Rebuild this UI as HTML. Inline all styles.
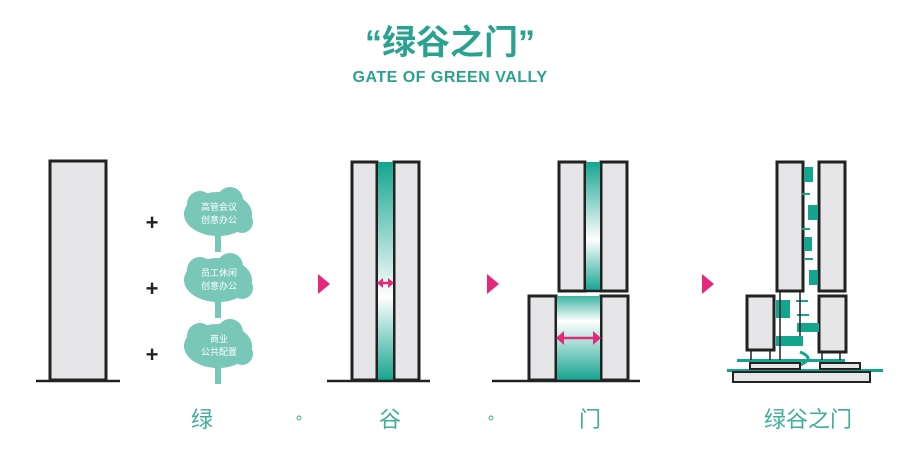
<!DOCTYPE html>
<html><head><meta charset="utf-8"><style>
html,body{margin:0;padding:0;background:#fff;}
svg{display:block}
text{font-family:"Liberation Sans","Noto Sans CJK SC",sans-serif;}
</style></head><body>
<svg width="900" height="452" viewBox="0 0 900 452" xmlns="http://www.w3.org/2000/svg">
<defs>
<linearGradient id="gv" x1="0" y1="0" x2="0" y2="1">
<stop offset="0" stop-color="#15a58f"/><stop offset="0.62" stop-color="#ffffff"/><stop offset="1" stop-color="#15a58f"/>
</linearGradient>
<linearGradient id="gv3" x1="0" y1="0" x2="0" y2="1">
<stop offset="0" stop-color="#15a58f"/><stop offset="0.6" stop-color="#ffffff"/><stop offset="1" stop-color="#15a58f"/>
</linearGradient>
<linearGradient id="gv2" x1="0" y1="0" x2="0" y2="1">
<stop offset="0" stop-color="#3fb5a2"/><stop offset="0.3" stop-color="#ffffff"/><stop offset="1" stop-color="#15a58f"/>
</linearGradient>
</defs>
<text x="450" y="54" font-size="34" fill="#2aa28f" text-anchor="middle" font-weight="bold">“绿谷之门”</text>
<text x="450" y="82" font-size="16" fill="#2aa28f" text-anchor="middle" font-weight="bold" letter-spacing="0.5">GATE OF GREEN VALLY</text>

<g stroke="#222" stroke-width="3" fill="#e6e6e8">
<rect x="50" y="161" width="56" height="219"/>
<rect x="352" y="162" width="25" height="218"/>
<rect x="394" y="162" width="25" height="218"/>
<rect x="559" y="162" width="26" height="129"/>
<rect x="601" y="162" width="26" height="129"/>
<rect x="529" y="296" width="27" height="84"/>
<rect x="601" y="296" width="27" height="84"/>
<rect x="777" y="162" width="26" height="129"/>
<rect x="819" y="162" width="26" height="129"/>
<rect x="747" y="296" width="27" height="54"/>
<rect x="819" y="296" width="27" height="56"/>
</g>
<rect x="378" y="162" width="15" height="218" fill="url(#gv)"/>
<rect x="586" y="162" width="14" height="129" fill="url(#gv3)"/>
<rect x="557" y="296" width="43" height="84" fill="url(#gv2)"/>
<g stroke="#222" stroke-width="2.5">
<line x1="36" y1="381" x2="120" y2="381"/>
<line x1="327" y1="381" x2="430" y2="381"/>
<line x1="492" y1="381" x2="640" y2="381"/>
<line x1="585" y1="291" x2="601" y2="291"/>
</g>
<g fill="#e5297a" stroke="#e5297a" stroke-width="2.5">
<line x1="381" y1="283" x2="390" y2="283"/>
<polygon points="377,283 383,278 383,288" stroke="none"/>
<polygon points="394,283 388,278 388,288" stroke="none"/>
<line x1="562" y1="338" x2="596" y2="338"/>
<polygon points="556,338 564,331 564,345" stroke="none"/>
<polygon points="601,338 593,331 593,345" stroke="none"/>
<polygon points="318,274 330,284 318,294" stroke="none"/>
<polygon points="487,274 499,284 487,294" stroke="none"/>
<polygon points="702,274 714,284 702,294" stroke="none"/>
</g>
<g font-size="22" fill="#222" text-anchor="middle" font-weight="bold">
<text x="152" y="230">+</text><text x="152" y="296">+</text><text x="152" y="362">+</text>
</g>
<g fill="#79c7b8">
<g transform="translate(218,214)"><rect x="-3" y="14" width="6" height="24"/><ellipse cx="0" cy="0" rx="34" ry="22"/><circle cx="-18" cy="-10" r="13"/><circle cx="12" cy="-14" r="13"/><circle cx="24" cy="8" r="11"/></g>
<g transform="translate(218,280)"><rect x="-3" y="14" width="6" height="24"/><ellipse cx="0" cy="0" rx="34" ry="22"/><circle cx="-18" cy="-10" r="13"/><circle cx="12" cy="-14" r="13"/><circle cx="24" cy="8" r="11"/></g>
<g transform="translate(218,346)"><rect x="-3" y="14" width="6" height="24"/><ellipse cx="0" cy="0" rx="34" ry="22"/><circle cx="-18" cy="-10" r="13"/><circle cx="12" cy="-14" r="13"/><circle cx="24" cy="8" r="11"/></g>
</g>
<g font-size="9" fill="#fff" text-anchor="middle">
<text x="219" y="210">高管会议</text><text x="219" y="223">创意办公</text>
<text x="219" y="276">员工休闲</text><text x="219" y="289">创意办公</text>
<text x="219" y="342">商业</text><text x="219" y="355">公共配置</text>
</g>
<g fill="#15a58f">
<rect x="804" y="167" width="9" height="15"/><rect x="808" y="205" width="10" height="15"/>
<rect x="804" y="237" width="8" height="14"/><rect x="809" y="270" width="9" height="15"/>
<rect x="776" y="300" width="14" height="18"/><rect x="776" y="336" width="27" height="10"/>
<rect x="797" y="323" width="22" height="9"/>
<rect x="802" y="193" width="8" height="2"/><rect x="802" y="228" width="8" height="2"/><rect x="805" y="258" width="8" height="2"/>
<rect x="796" y="300" width="12" height="2"/><rect x="797" y="314" width="12" height="2"/>
<rect x="737" y="359" width="108" height="3"/>
<rect x="727" y="369" width="156" height="3"/>
</g>
<g stroke="#15a58f" stroke-width="3" fill="none"><path d="M800 352 Q815 358 802 364 Q790 370 808 376"/></g>
<g stroke="#222" stroke-width="2" fill="#e6e6e8">
<rect x="750" y="363" width="50" height="6"/><rect x="820" y="363" width="40" height="6"/>
<rect x="733" y="372" width="137" height="10"/>
</g>
<g stroke="#222" stroke-width="1.5">
<line x1="751" y1="351" x2="751" y2="360"/><line x1="770" y1="351" x2="770" y2="360"/>
<line x1="780" y1="292" x2="780" y2="360"/><line x1="800" y1="292" x2="800" y2="336"/>
<line x1="822" y1="353" x2="822" y2="360"/><line x1="840" y1="353" x2="840" y2="360"/>
</g>
<g font-size="22" fill="#3fae98" text-anchor="middle">
<text x="202" y="427">绿</text><text x="390" y="427">谷</text><text x="590" y="427">门</text>
<text x="808" y="427">绿谷之门</text>
</g>
<g fill="none" stroke="#3fae98" stroke-width="1"><circle cx="299" cy="418" r="2"/><circle cx="491" cy="418" r="2"/></g>
</svg>
</body></html>
